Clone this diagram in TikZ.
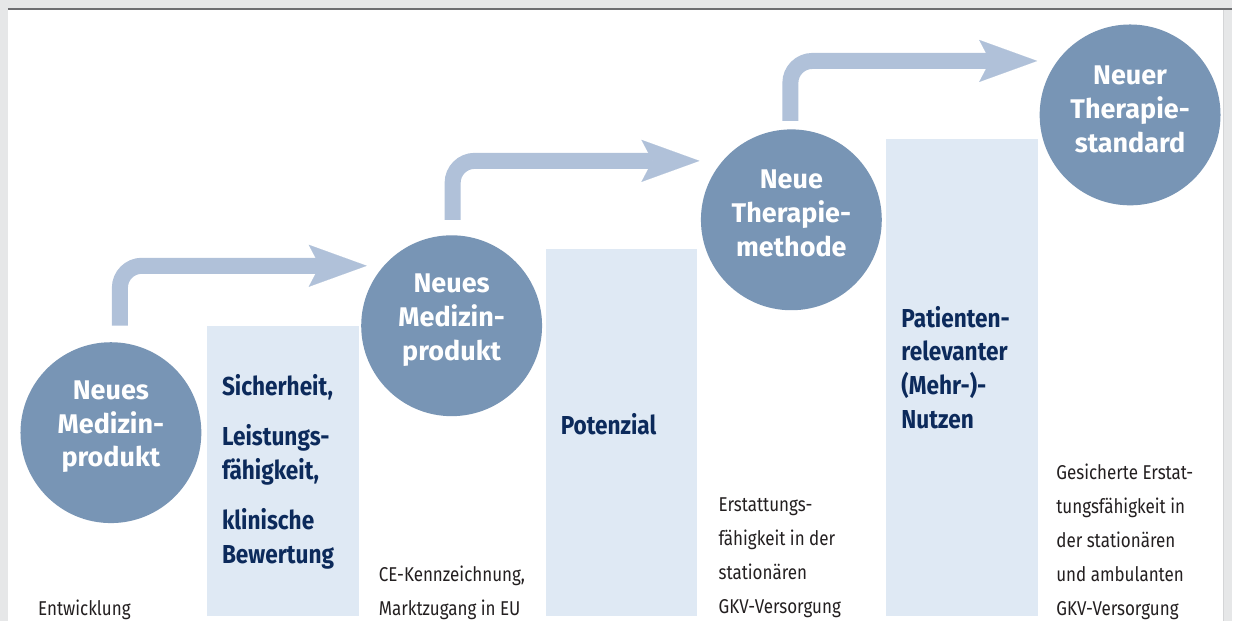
\documentclass[tikz,border=0pt]{standalone}
\usepackage{fontspec}
\setmainfont{Fira Sans}
\newfontfamily\condfont[FakeStretch=0.87]{Fira Sans}
\newfontfamily\notizfont[FakeStretch=0.85]{Fira Sans}
\usetikzlibrary{arrows.meta}
\definecolor{framegray}{HTML}{E6E7E8}
\definecolor{linegray}{HTML}{6D6E71}
\definecolor{edgegray}{HTML}{D4D5D7}
\definecolor{circblue}{HTML}{7895B5}
\definecolor{arrowblue}{HTML}{B0C1D9}
\definecolor{barblue}{HTML}{DFE9F4}
\definecolor{navy}{HTML}{0C2A5B}
\definecolor{textgray}{HTML}{231F20}
\tikzset{
  stufe/.style={circle,fill=circblue,minimum size=181pt,inner sep=0pt},
  stufetext/.style={text=white,font=\fontsize{27}{34}\selectfont\bfseries,align=center,inner sep=0pt,yshift=6pt},
  balkentext/.style={text=navy,font=\condfont\fontsize{26}{34}\selectfont\bfseries,align=left,anchor=north west,inner sep=0pt},
  notiz/.style={text=textgray,font=\notizfont\fontsize{20}{34}\selectfont,align=left,anchor=north west,inner sep=0pt},
  pfeil/.style={draw=arrowblue,line width=16pt,rounded corners=22pt,-{Stealth[length=58pt,width=42pt,inset=11pt,line width=0.1pt]}}
}
\begin{document}
\begin{tikzpicture}[x=1pt,y=-1pt]
        \fill[framegray] (0,0) rectangle (1233,622);
        \fill[white] (8,10) rectangle (1224,622);
        \draw[linegray,line width=2pt] (8,9) -- (1233,9);
        \draw[edgegray,line width=1pt] (1224.5,10) -- (1224.5,622);
        \fill[barblue] (207,326) rectangle (359,616);
        \fill[barblue] (546,249) rectangle (698,616);
        \fill[barblue] (887,139) rectangle (1039,616);
        \coordinate (a1) at (120,326);
        \coordinate (b1) at (367,266);
        \coordinate (a2) at (453,220);
        \coordinate (b2) at (700,161);
        \coordinate (a3) at (791,121);
        \coordinate (b3) at (1038,61);
        \draw[pfeil] (a1) |- (b1);
        \draw[pfeil] (a2) |- (b2);
        \draw[pfeil] (a3) |- (b3);
        \node[stufe] (1) at (111,433) {};
        \node[stufe] (2) at (452,326) {};
        \node[stufe] (3) at (792,220) {};
        \node[stufe] (4) at (1131,115) {};
        \node[stufetext] (t1) at (1) {Neues\\Medizin-\\produkt};
        \node[stufetext] (t2) at (2) {Neues\\Medizin-\\produkt};
        \node[stufetext] (t3) at (3) {Neue\\Therapie-\\methode};
        \node[stufetext] (t4) at (4) {Neuer\\Therapie-\\standard};
        \node[balkentext] (5) at (222,375) {Sicherheit,\\[16pt]Leistungs-\\fähigkeit,\\[16pt]klinische\\Bewertung};
        \node[balkentext] (6) at (561,414) {Potenzial};
        \node[balkentext] (7) at (902,306) {Patienten-\\relevanter\\(Mehr-)-\\Nutzen};
        \node[notiz] (8) at (38,600) {Entwicklung};
        \node[notiz] (9) at (379,566) {CE-Kennzeichnung,\\Marktzugang in EU};
        \node[notiz] (10) at (719,498) {Erstattungs-\\fähigkeit in der\\stationären\\GKV-Versorgung};
        \node[notiz] (11) at (1057,464) {Gesicherte Erstat-\\tungsfähigkeit in\\der stationären\\und ambulanten\\GKV-Versorgung};
    \end{tikzpicture}
\end{document}
